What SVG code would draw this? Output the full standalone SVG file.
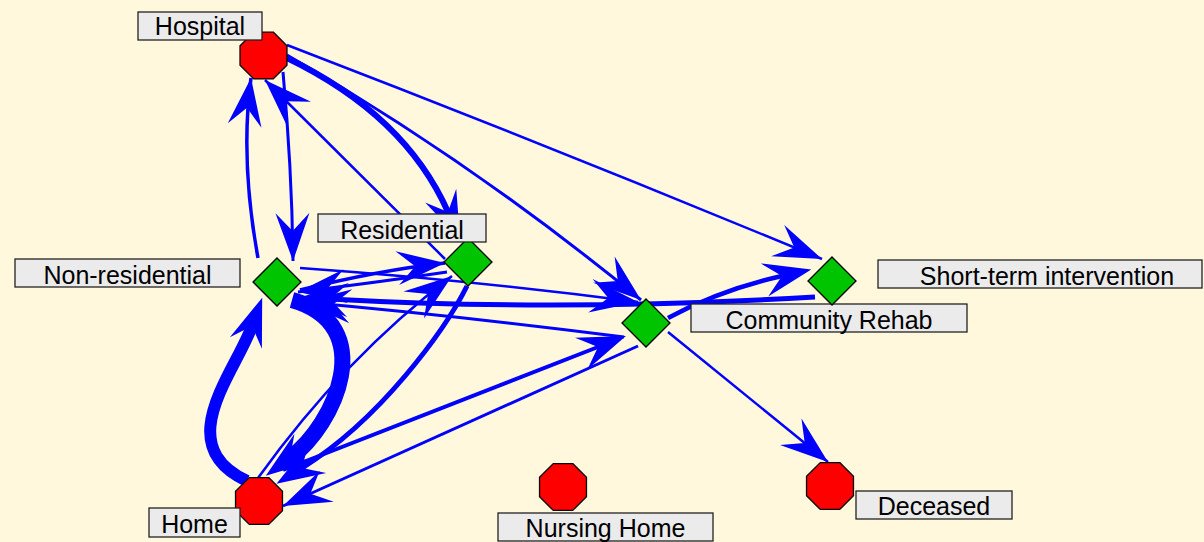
<svg xmlns="http://www.w3.org/2000/svg" xmlns:xlink="http://www.w3.org/1999/xlink" width="1204" height="542" viewBox="0 0 1204 542">
<style>
.e{fill:none;stroke:#0000FF;stroke-linecap:butt;stroke-linejoin:round}
.oct{fill:#FF0000;stroke:#000;stroke-width:1.3}
.dia{fill:#00C400;stroke:#000;stroke-width:1.3}
.lb{fill:#EBEBEB;stroke:#222;stroke-width:1.3}
.lt{font-family:"Liberation Sans",Arial,sans-serif;font-size:25px;fill:#000;text-anchor:middle}
</style>
<defs>
<marker id="ah" markerUnits="userSpaceOnUse" markerWidth="52" markerHeight="40" viewBox="-50 -20 52 40" refX="0" refY="0" orient="auto"><path d="M0,0 L-48,-17 L-30,0 L-48,17 Z" fill="#0000FF"/></marker>
<marker id="an" markerUnits="userSpaceOnUse" markerWidth="52" markerHeight="40" viewBox="-20 -20 52 40" refX="0" refY="0" orient="auto"><path d="M30,0 L-18,-17 L0,0 L-18,17 Z" fill="#0000FF"/></marker>
<polygon id="octp" points="9.72,-23.47 23.47,-9.72 23.47,9.72 9.72,23.47 -9.72,23.47 -23.47,9.72 -23.47,-9.72 -9.72,-23.47"/>
<polygon id="diap" points="0,-24 24,0 0,24 -24,0"/>
</defs>
<rect width="1204" height="542" fill="#FFF8DC"/>
<g id="connectors">
<path class="e" stroke-width="2.5" marker-end="url(#ah)" d="M287,45 Q555,148 822,259"/>
<path class="e" stroke-width="3" marker-end="url(#ah)" d="M287,55 Q470,160 641,300"/>
<path class="e" stroke-width="6" marker-end="url(#an)" d="M287,58 Q405,115 448,212"/>
<path class="e" stroke-width="3" marker-end="url(#ah)" d="M283,72 Q292,170 293,261"/>
<path class="e" stroke-width="3.5" marker-end="url(#ah)" d="M258,258 Q240,160 251,78"/>
<path class="e" stroke-width="2.5" marker-end="url(#ah)" d="M445,259 L265,80"/>
<path class="e" stroke-width="12" marker-end="url(#an)" d="M247,481 C170,445 235,373 252,326"/>
<path class="e" stroke-width="16" marker-end="url(#an)" d="M292,300 C380,325 335,425 290,458"/>
<path class="e" stroke-width="5" marker-end="url(#an)" d="M467,286 C445,330 380,420 302,468"/>
<path class="e" stroke-width="2.5" marker-end="url(#ah)" d="M258,478 Q345,357 452,276"/>
<path class="e" stroke-width="3.5" marker-end="url(#ah)" d="M300,290 Q380,270 445,263"/>
<path class="e" stroke-width="3" marker-end="url(#ah)" d="M447,272 Q380,282 298,292"/>
<path class="e" stroke-width="2.5" marker-end="url(#ah)" d="M300,268 Q470,280 638,302"/>
<path class="e" stroke-width="5" marker-end="url(#an)" d="M815,297 Q560,312 330,299"/>
<path class="e" stroke-width="3" marker-end="url(#ah)" d="M624,337 Q460,316 303,302"/>
<path class="e" stroke-width="4" marker-end="url(#an)" d="M283,470 L598,347"/>
<path class="e" stroke-width="3" marker-end="url(#ah)" d="M638,346 L283,506"/>
<path class="e" stroke-width="4.5" marker-end="url(#an)" d="M668,318 Q720,290 782,276"/>
<path class="e" stroke-width="2.5" marker-end="url(#ah)" d="M668,332 L828,462"/>
</g>
<g id="node-hospital"><use xlink:href="#octp" class="oct" x="263.5" y="55.5"/><rect class="lb" x="138" y="12" width="124" height="28"/><text class="lt" x="200" y="35">Hospital</text></g>
<g id="node-nonresidential"><use xlink:href="#diap" class="dia" x="277" y="282"/><rect class="lb" x="15" y="259" width="225" height="28"/><text class="lt" x="127.5" y="284">Non-residential</text></g>
<g id="node-residential"><use xlink:href="#diap" class="dia" x="468" y="262"/><rect class="lb" x="318" y="214" width="168" height="28"/><text class="lt" x="402" y="239">Residential</text></g>
<g id="node-communityrehab"><use xlink:href="#diap" class="dia" x="646" y="323"/><rect class="lb" x="691" y="304" width="276" height="28"/><text class="lt" x="829" y="329">Community Rehab</text></g>
<g id="node-shortterm"><use xlink:href="#diap" class="dia" x="832" y="281"/><rect class="lb" x="878" y="260" width="324" height="28"/><text class="lt" x="1047" y="285">Short-term intervention</text></g>
<g id="node-home"><use xlink:href="#octp" class="oct" x="259" y="501"/><rect class="lb" x="149" y="508" width="91" height="29"/><text class="lt" x="194.5" y="533">Home</text></g>
<g id="node-nursinghome"><use xlink:href="#octp" class="oct" x="563" y="487"/><rect class="lb" x="498" y="513" width="215" height="28"/><text class="lt" x="605.5" y="537">Nursing Home</text></g>
<g id="node-deceased"><use xlink:href="#octp" class="oct" x="830" y="486"/><rect class="lb" x="856" y="491" width="156" height="28"/><text class="lt" x="934" y="515">Deceased</text></g>
</svg>
